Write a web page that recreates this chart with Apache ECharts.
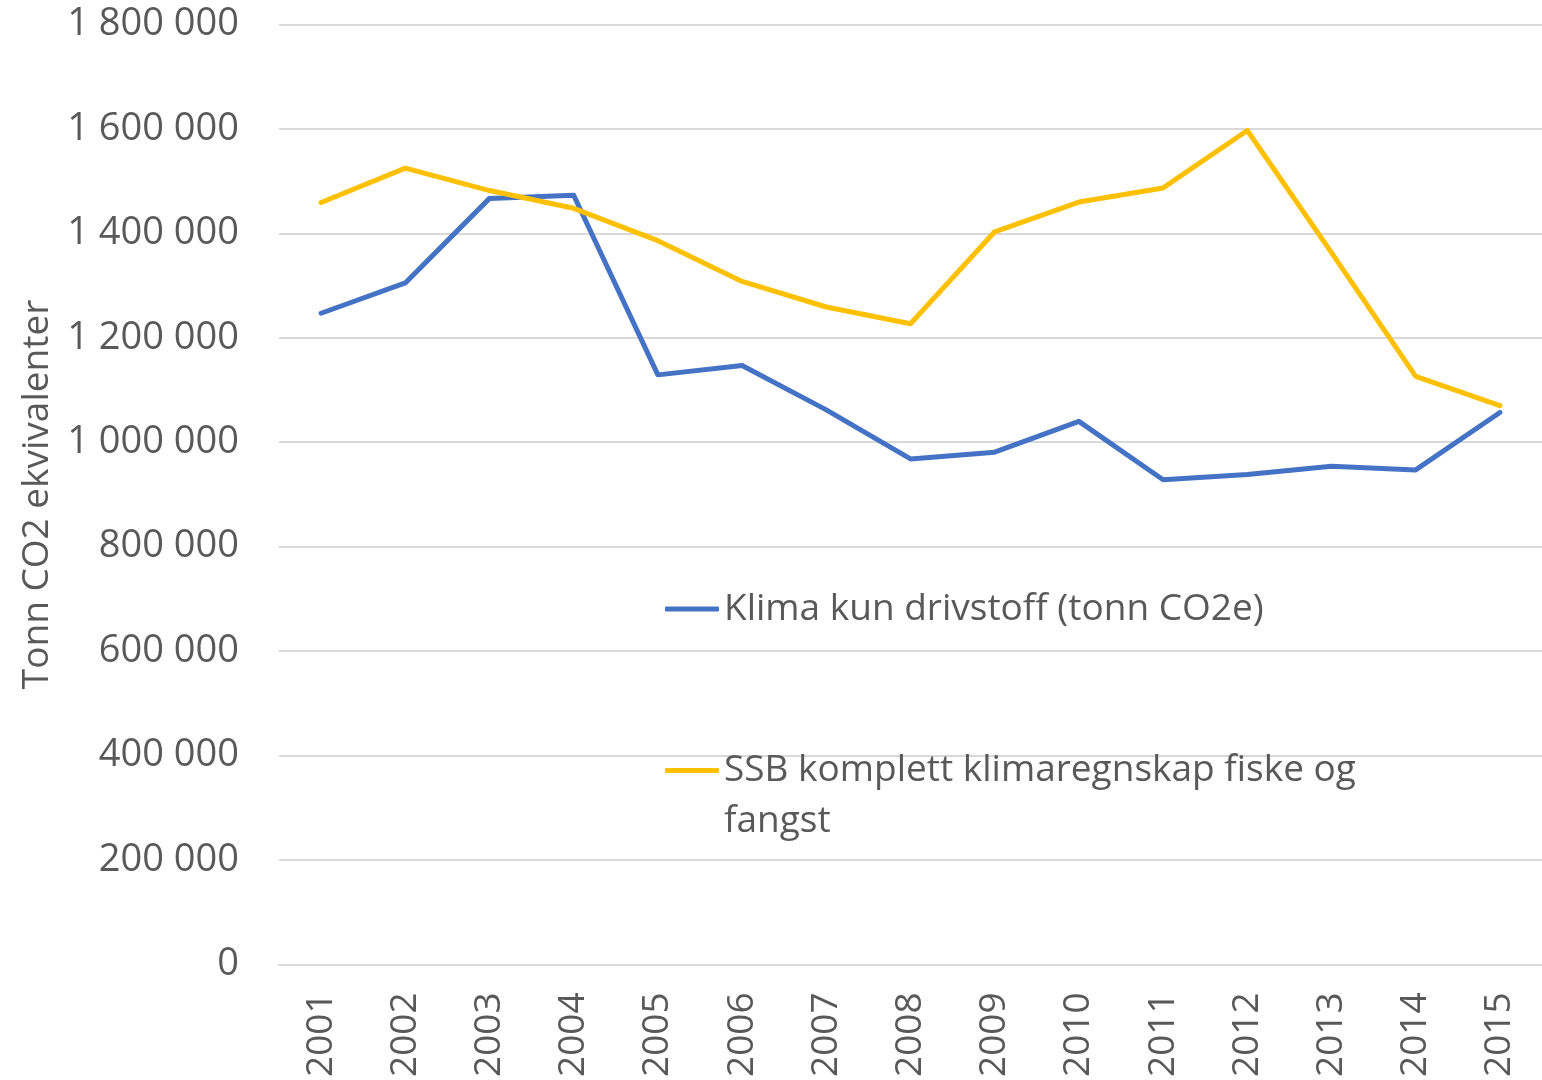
<!DOCTYPE html>
<html>
<head>
<meta charset="utf-8">
<script src="https://cdn.jsdelivr.net/npm/echarts@6/dist/echarts.min.js"></script>
<style>
html,body{margin:0;padding:0;background:#fff;overflow:hidden;}
#chart{width:1542px;height:1080px;}
</style>
</head>
<body>
<div id="chart"></div>
<script>
const years = ['2001','2002','2003','2004','2005','2006','2007','2008','2009','2010','2011','2012','2013','2014','2015'];
const klimaName = 'Klima kun drivstoff (tonn CO2e)';
const klimaValues = [1247000,1305000,1467000,1473000,1129000,1147000,1062000,968000,981000,1040000,928000,938000,954000,947000,1057000];
const ssbName = 'SSB komplett klimaregnskap fiske og fangst';
const ssbLines = ['SSB komplett klimaregnskap fiske og', 'fangst'];
const ssbValues = [1459000,1525000,1482000,1448000,1386000,1308000,1259000,1227000,1403000,1460000,1487000,1597000,1363000,1126000,1070000];
const yTicks = {min:0, max:1800000, interval:200000};
const yTitle = 'Tonn CO2 ekvivalenter';

const FONT = "'Open Sans', sans-serif";
const TXT = '#595959';
function fmt(v){ return String(v).replace(/\B(?=(\d{3})+(?!\d))/g, ' '); }

const chart = echarts.init(document.getElementById('chart'));
chart.setOption({
  animation:false,
  backgroundColor:'#ffffff',
  textStyle:{fontFamily:FONT},
  grid:{left:279, width:1267, top:24.5, height:941, containLabel:false},
  xAxis:{
    type:'category', data:years, boundaryGap:true,
    axisLine:{show:true, lineStyle:{color:'#d9d9d9', width:2}},
    axisTick:{show:false},
    axisLabel:{rotate:90, margin:28, fontSize:37, color:TXT, fontFamily:FONT}
  },
  yAxis:{
    type:'value', min:yTicks.min, max:yTicks.max, interval:yTicks.interval,
    name:yTitle, nameLocation:'middle', nameGap:222, nameRotate:90,
    nameTextStyle:{fontSize:37, color:TXT, fontFamily:FONT},
    axisLine:{show:false}, axisTick:{show:false},
    axisLabel:{margin:40, fontSize:38, color:TXT, fontFamily:FONT, formatter:fmt},
    splitLine:{lineStyle:{color:'#d9d9d9', width:2}}
  },
  legend:[
    {data:[klimaName], orient:'vertical', left:665, top:584, padding:0,
     icon:'roundRect', itemWidth:54, itemHeight:5,
     textStyle:{fontSize:37, color:TXT, fontFamily:FONT, lineHeight:50}},
    {data:[ssbName], orient:'vertical', left:665, top:694, padding:0,
     icon:'roundRect', itemWidth:54, itemHeight:5,
     formatter:function(n){ return '\n' + ssbLines.join('\n'); },
     textStyle:{fontSize:37, color:TXT, fontFamily:FONT, lineHeight:51}}
  ],
  series:[
    {name:klimaName, type:'line', data:klimaValues, symbol:'none', showSymbol:false,
     lineStyle:{color:'#4472C4', width:5, cap:'round', join:'round'}, itemStyle:{color:'#4472C4'}},
    {name:ssbName, type:'line', data:ssbValues, symbol:'none', showSymbol:false,
     lineStyle:{color:'#FFC000', width:5, cap:'round', join:'round'}, itemStyle:{color:'#FFC000'}}
  ]
});
</script>
</body>
</html>
